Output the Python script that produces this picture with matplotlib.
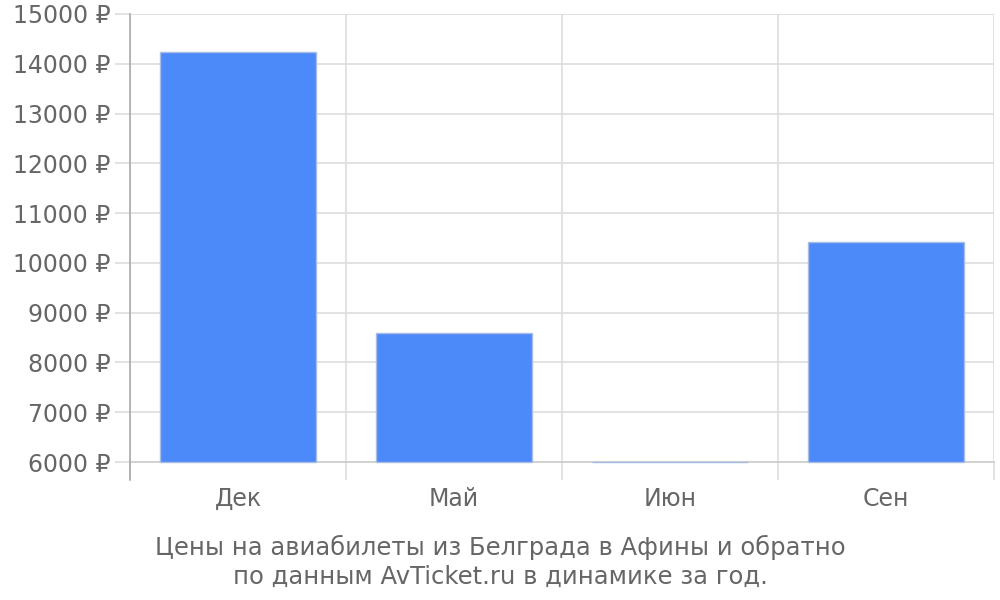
import matplotlib
matplotlib.use("Agg")
import matplotlib.pyplot as plt
from matplotlib.ticker import FixedLocator, FuncFormatter

# Данные
months = ["Дек", "Май", "Июн", "Сен"]
prices = [14240, 8600, 6000, 10420]
y_ticks = [6000, 7000, 8000, 9000, 10000, 11000, 12000, 13000, 14000, 15000]
caption = "Цены на авиабилеты из Белграда в Афины и обратно\nпо данным AvTicket.ru в динамике за год."

text_color = "#666666"
grid_color = "#dddddd"
bar_color = "#4c89f9"
fs = 17

fig = plt.figure(figsize=(10, 6), dpi=100)
ax = fig.add_axes([0.13, 0.23, 0.864, 0.7467])

x = range(len(months))
base = y_ticks[0]
bars = ax.bar(x, [p - base for p in prices], bottom=base, width=0.72,
              color=bar_color, edgecolor="#a8bde6", linewidth=1.0, zorder=3)
for b in bars:
    b.set_clip_on(False)

ax.set_xlim(-0.5, len(months) - 0.5)
ax.set_ylim(y_ticks[0], y_ticks[-1])

# подписи месяцев по центру, сетка по границам категорий
ax.set_xticks(list(x))
ax.set_xticklabels(months)
ax.xaxis.set_minor_locator(FixedLocator([i - 0.5 for i in range(len(months) + 1)]))
ax.tick_params(axis="x", which="major", length=0, pad=18, labelsize=fs, labelcolor=text_color)
ax.tick_params(axis="x", which="minor", length=13, width=1.2, color=grid_color, direction="out")
ax.grid(axis="x", which="minor", color=grid_color, linewidth=1.2, zorder=0)

ax.set_yticks(y_ticks)
ax.yaxis.set_major_formatter(FuncFormatter(lambda v, pos: f"{int(v)} ₽"))
ax.tick_params(axis="y", length=11, width=1.2, color=grid_color, pad=3,
               labelsize=fs, labelcolor=text_color)
ax.grid(axis="y", color=grid_color, linewidth=1.2, zorder=0)

for side in ["top", "right"]:
    ax.spines[side].set_visible(False)
ax.spines["bottom"].set_color("#cccccc")
ax.spines["bottom"].set_linewidth(1.2)
ax.spines["left"].set_color("#aaaaaa")
ax.spines["left"].set_linewidth(1.2)
ax.spines["left"].set_bounds(5640, 15000)
ax.spines["left"].set_zorder(4)

fig.text(0.5, 0.064, caption, ha="center", va="center", fontsize=17.5,
         color=text_color, linespacing=1.25)

fig.savefig("out.png", dpi=100)
